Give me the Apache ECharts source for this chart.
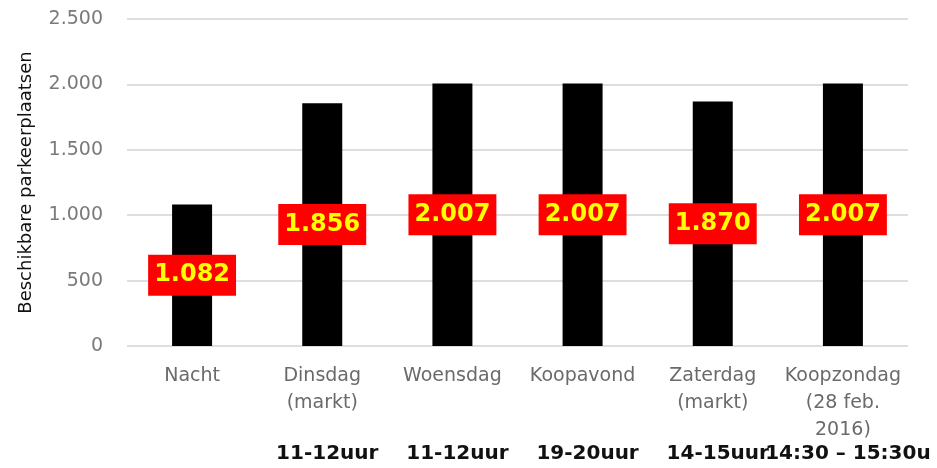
<!DOCTYPE html>
<html>
<head>
<meta charset="utf-8">
<script src="https://cdn.jsdelivr.net/npm/echarts@6/dist/echarts.min.js"></script>
<style>
  html, body { margin: 0; padding: 0; background: #fff; }
  #chart { width: 937px; height: 468px; }
</style>
</head>
<body>
<div id="chart"></div>
<script>
// categories and values
const categories = ['Nacht', 'Dinsdag\n(markt)', 'Woensdag', 'Koopavond', 'Zaterdag\n(markt)', 'Koopzondag\n(28 feb.\n2016)'];
const timeLabels = ['', '11-12uur', '11-12uur', '19-20uur', '14-15uur', '14:30 \u2013 15:30u'];
const values = [1082, 1856, 2007, 2007, 1870, 2007];
const yTicks = { min: 0, max: 2500, interval: 500 };

// 1234 -> "1.234"
function fmt(v) {
  return String(v).replace(/\B(?=(\d{3})+(?!\d))/g, '.');
}

const chart = echarts.init(document.getElementById('chart'));

chart.setOption({
  animation: false,
  grid: { left: 127, right: 29, top: 19, bottom: 122 },
  xAxis: [
    {
      type: 'category',
      data: categories,
      axisLine: { show: false },
      axisTick: { show: false },
      axisLabel: {
        interval: 0,
        margin: 17,
        color: '#6a6a6a',
        fontFamily: 'DejaVu Sans',
        fontSize: 19,
        lineHeight: 27
      }
    },
    {
      type: 'category',
      position: 'bottom',
      offset: 90,
      data: timeLabels,
      axisLine: { show: false },
      axisTick: { show: false },
      splitLine: { show: false },
      axisLabel: {
        interval: 0,
        margin: 8,
        color: '#111',
        fontFamily: 'DejaVu Sans',
        fontWeight: 'bold',
        fontSize: 20,
        padding: [0, 0, 0, 10]
      }
    }
  ],
  yAxis: {
    type: 'value',
    min: yTicks.min,
    max: yTicks.max,
    interval: yTicks.interval,
    name: 'Beschikbare parkeerplaatsen',
    nameLocation: 'middle',
    nameGap: 92,
    nameTextStyle: { color: '#111', fontFamily: 'DejaVu Sans', fontSize: 18 },
    axisLabel: {
      margin: 24,
      color: '#7a7a7a',
      fontFamily: 'DejaVu Sans',
      fontSize: 19,
      formatter: (v) => fmt(v)
    },
    splitLine: { lineStyle: { color: '#dedede', width: 2 } }
  },
  series: [
    {
      type: 'bar',
      xAxisIndex: 0,
      data: values,
      barWidth: 40,
      itemStyle: { color: '#000' },
      label: {
        show: true,
        position: 'inside',
        formatter: (p) => fmt(p.value),
        color: '#ffff00',
        fontFamily: 'DejaVu Sans',
        fontWeight: 'bold',
        fontSize: 24,
        lineHeight: 25,
        backgroundColor: '#ff0000',
        padding: [8, 6]
      },
      emphasis: { disabled: true }
    }
  ]
});
</script>
</body>
</html>
